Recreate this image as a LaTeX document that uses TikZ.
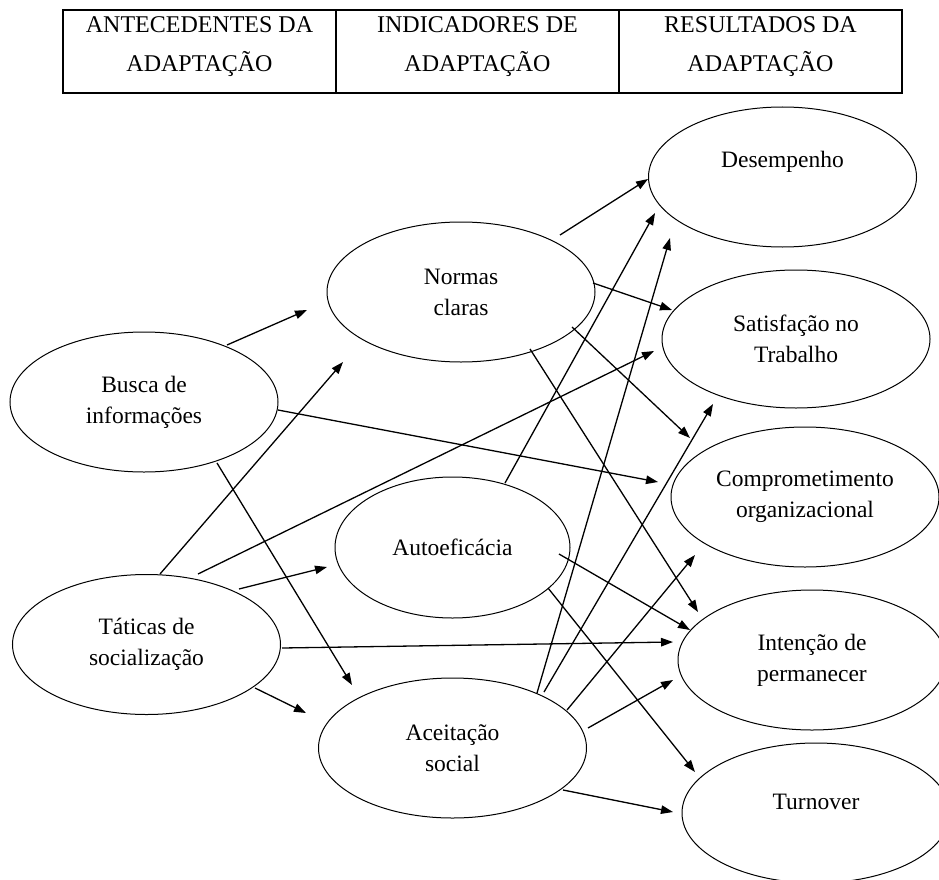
\documentclass[tikz,border=0pt]{standalone}
\usepackage{fontspec}
\setmainfont{Liberation Serif}
\usetikzlibrary{shapes.geometric,arrows.meta,calc}

\tikzset{
  oval/.style={ellipse, draw, line width=1pt, inner sep=0pt,
    minimum width=268pt, minimum height=140pt, align=center,
    font=\fontsize{23.5}{31}\selectfont},
  headtext/.style={align=center, inner sep=0pt,
    font=\fontsize{24}{39}\selectfont},
  conn/.style={line width=1.3pt, -{Triangle[length=12pt,width=8.5pt]}},
}

\begin{document}
\begin{tikzpicture}[x=1pt, y=-1pt]
\useasboundingbox (0,0) rectangle (939,880);
\clip (0,0) rectangle (939,880);
\fill[white] (0,0) rectangle (939,880);

% header table
\draw[line width=1.5pt] (63,10) rectangle (902,93);
\draw[line width=1.5pt] (336,10) -- (336,93);
\draw[line width=1.5pt] (619,10) -- (619,93);
\node[headtext] (h1) at (199.5,47) {ANTECEDENTES DA\\ADAPTAÇÃO};
\node[headtext] (h2) at (477.5,47) {INDICADORES DE\\ADAPTAÇÃO};
\node[headtext] (h3) at (760.5,47) {RESULTADOS DA\\ADAPTAÇÃO};

% antecedents
\node[oval] (busca) at (144,402) {Busca de\\informações};
\node[oval] (taticas) at (146.5,644.5) {Táticas de\\socialização};

% indicators
\node[oval] (normas) at (461,292) {Normas\\claras};
\node[oval, minimum width=235pt, minimum height=141pt] (auto) at (452.5,547.5) {Autoeficácia};
\node[oval] (aceit) at (452.5,748) {Aceitação\\social};

% outcomes
\node[oval] (desemp) at (782.5,177) {\raisebox{15pt}[\height][\depth]{Desempenho}};
\node[oval, minimum height=138pt] (satisf) at (796,339) {Satisfação no\\Trabalho};
\node[oval] (compr) at (805,497) {Comprometimento\\organizacional};
\node[oval] (intenc) at (812,660) {Intenção de\\permanecer};
\node[oval] (turn) at (816,813) {\raisebox{11pt}[\height][\depth]{Turnover}};

% paths from the antecedents
\draw[conn] ($(busca)+(83,-57)$) -- ($(normas)+(-154,18)$);
\draw[conn] ($(busca)+(73,61)$) -- ($(aceit)+(-100.5,-63)$);
\draw[conn] ($(busca)+(134,8)$) -- ($(compr)+(-147,-15)$);
\draw[conn] ($(taticas)+(13.5,-70.5)$) -- ($(normas)+(-118,70)$);
\draw[conn] ($(taticas)+(51.5,-70.5)$) -- ($(satisf)+(-142,12)$);
\draw[conn] ($(taticas)+(92.5,-55.5)$) -- ($(auto)+(-125.5,19.5)$);
\draw[conn] ($(taticas)+(135.5,3.5)$) -- ($(intenc)+(-139,-18)$);
\draw[conn] ($(taticas)+(108.5,43.5)$) -- ($(aceit)+(-146.5,-35)$);

% paths from the indicators
\draw[conn] ($(normas)+(99,-57)$) -- ($(desemp)+(-134.5,2)$);
\draw[conn] ($(normas)+(132,-9)$) -- ($(satisf)+(-124,-29)$);
\draw[conn] ($(normas)+(111,35)$) -- ($(compr)+(-115,-59)$);
\draw[conn] ($(normas)+(69,57)$) -- ($(intenc)+(-114,-48)$);
\draw[conn] ($(auto)+(52.5,-64.5)$) -- ($(desemp)+(-127.5,36)$);
\draw[conn] ($(auto)+(106.5,6.5)$) -- ($(intenc)+(-122,-30)$);
\draw[conn] ($(auto)+(95.5,40.5)$) -- ($(turn)+(-121,-41)$);
\draw[conn] ($(aceit)+(84.5,-55)$) -- ($(desemp)+(-112.5,61)$);
\draw[conn] ($(aceit)+(91.5,-56)$) -- ($(satisf)+(-83,65)$);
\draw[conn] ($(aceit)+(114.5,-38)$) -- ($(compr)+(-110,58)$);
\draw[conn] ($(aceit)+(135.5,-20)$) -- ($(intenc)+(-139,20)$);
\draw[conn] ($(aceit)+(110.5,42)$) -- ($(turn)+(-143,-1)$);
\end{tikzpicture}
\end{document}
